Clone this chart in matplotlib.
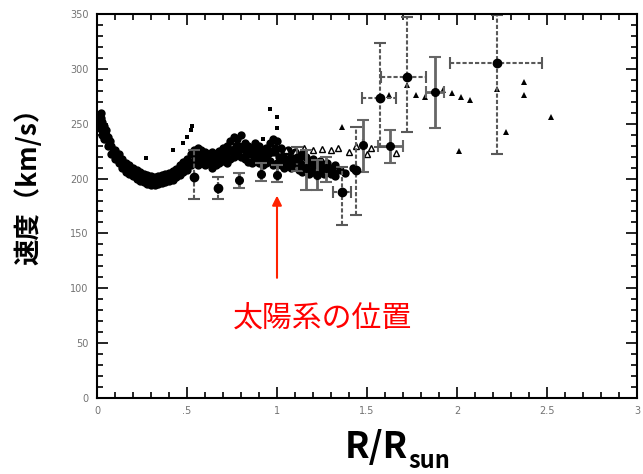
import numpy as np
import matplotlib.pyplot as plt

plt.rcParams['font.family'] = ['DejaVu Sans']

# dense band of small points (R/Rsun, km/s)
band_x = [0.01, 0.01, 0.02, 0.02, 0.02, 0.03, 0.03, 0.04, 0.04, 0.05, 0.05, 0.06, 0.06,
          0.08, 0.08, 0.10, 0.10, 0.12, 0.12, 0.14, 0.14, 0.16, 0.16, 0.18, 0.18,
          0.20, 0.20, 0.22, 0.22, 0.24, 0.24, 0.26, 0.26, 0.28, 0.28, 0.30, 0.30,
          0.32, 0.32, 0.34, 0.34, 0.36, 0.36, 0.38, 0.38, 0.40, 0.40, 0.42, 0.42,
          0.44, 0.44, 0.46, 0.46, 0.48, 0.48, 0.50, 0.50, 0.52, 0.52, 0.54, 0.54,
          0.56, 0.56, 0.56, 0.58, 0.58, 0.60, 0.60, 0.62, 0.62, 0.64, 0.64, 0.66, 0.66,
          0.68, 0.68, 0.70, 0.70, 0.72, 0.72, 0.74, 0.74, 0.76, 0.76, 0.78, 0.78,
          0.80, 0.80, 0.82, 0.82, 0.84, 0.84, 0.86, 0.86, 0.88, 0.88, 0.90, 0.90,
          0.92, 0.92, 0.94, 0.94, 0.96, 0.96, 0.98, 0.98, 1.00, 1.00, 1.02, 1.02,
          1.04, 1.04, 1.06, 1.06, 1.08, 1.08, 1.10, 1.10, 1.12, 1.12, 1.14, 1.14,
          1.16, 1.16, 1.18, 1.18, 1.20, 1.20, 1.22, 1.22, 1.24, 1.24, 1.26, 1.26,
          1.28, 1.28, 1.30, 1.30, 1.32, 1.32, 1.35, 1.38, 1.42,
          0.03, 0.07, 0.11, 0.15, 0.19, 0.23, 0.27, 0.31, 0.35, 0.39, 0.43, 0.47,
          0.51, 0.57, 0.61, 0.65, 0.69, 0.73, 0.77, 0.81, 0.85, 0.89, 0.93, 0.97,
          1.01, 1.05, 1.09, 1.13, 1.17, 1.21, 1.25, 1.29,
          0.02, 0.05, 0.09, 0.13, 0.17, 0.21, 0.25, 0.29, 0.33, 0.37, 0.41, 0.45,
          0.49, 0.55, 0.59, 0.63, 0.67, 0.71, 0.75, 0.79, 0.83, 0.87, 0.91, 0.95,
          0.99, 1.03, 1.07, 1.11, 1.15, 1.19, 1.23, 1.27, 1.31,
          0.59, 0.63, 0.67, 0.71, 0.75, 0.79, 0.83, 0.87, 0.91, 0.95, 0.99, 1.03]
band_y = [258, 250, 255, 245, 260, 252, 240, 248, 236, 244, 240, 238, 230,
          230, 222, 226, 218, 222, 214, 218, 210, 214, 206, 212, 204,
          210, 202, 208, 200, 206, 198, 204, 197, 203, 195, 202, 194,
          201, 194, 202, 195, 203, 196, 204, 197, 205, 198, 207, 199,
          209, 201, 212, 203, 215, 206, 218, 208, 222, 212, 226, 216,
          228, 218, 212, 226, 214, 224, 212, 222, 214, 224, 210, 222, 212,
          225, 214, 228, 216, 230, 214, 234, 218, 238, 220, 236, 222,
          240, 220, 232, 218, 230, 215, 228, 214, 232, 216, 230, 214,
          226, 212, 228, 214, 232, 216, 236, 212, 234, 214, 228, 212,
          224, 210, 226, 212, 222, 210, 224, 214, 218, 208, 222, 206,
          220, 210, 216, 204, 218, 208, 214, 204, 216, 206, 212, 204,
          214, 206, 210, 204, 212, 202, 208, 205, 210,
          246, 234, 220, 212, 208, 202, 199, 197, 199, 201, 204, 210,
          214, 222, 218, 218, 220, 224, 230, 228, 222, 224, 220, 224,
          220, 218, 216, 214, 214, 210, 210, 208,
          252, 236, 224, 216, 206, 204, 200, 200, 197, 200, 202, 207,
          212, 220, 220, 216, 217, 222, 226, 226, 224, 220, 222, 222,
          224, 220, 218, 220, 212, 214, 208, 208, 206,
          216, 218, 216, 220, 226, 230, 226, 222, 218, 226, 228, 218]

# scattered outliers
out_x = [0.27, 0.42, 0.48, 0.50, 0.52, 0.53, 0.96, 1.00, 1.00, 0.92]
out_y = [219, 226, 232, 238, 244, 248, 263, 256, 246, 236]

# open triangles
otri_x = [1.05, 1.10, 1.15, 1.20, 1.25, 1.30, 1.34, 1.40, 1.44, 1.50, 1.52, 1.66]
otri_y = [226, 224, 228, 226, 227, 226, 228, 224, 230, 222, 228, 223]

# filled triangles
tri_x = [1.36, 1.62, 1.72, 1.77, 1.82, 1.92, 1.97, 2.02, 2.07, 2.01, 2.22, 2.27, 2.37, 2.37, 2.52]
tri_y = [247, 276, 285, 276, 274, 281, 278, 274, 272, 225, 282, 242, 288, 276, 256]

# points with solid error bars
sol_x = [0.79, 0.91, 1.00, 1.16, 1.22, 1.27, 1.48, 1.63, 1.88]
sol_y = [199, 204, 203, 210, 203, 210, 231, 230, 279]
sol_ylo = [8, 6, 6, 20, 13, 13, 25, 16, 33]
sol_yhi = [6, 10, 9, 16, 14, 10, 22, 14, 32]
sol_xe = [0, 0, 0, 0, 0, 0, 0, 0.07, 0.05]

# points with dashed error bars
dsh_x = [0.54, 0.67, 1.11, 1.36, 1.44, 1.57, 1.72, 2.22]
dsh_y = [201, 191, 219, 188, 208, 273, 293, 305]
dsh_ylo = [20, 10, 12, 30, 41, 44, 51, 83]
dsh_yhi = [25, 10, 10, 23, 39, 51, 54, 44]
dsh_xlo = [0, 0, 0, 0.05, 0, 0.10, 0.14, 0.26]
dsh_xhi = [0, 0, 0, 0.05, 0, 0.09, 0.11, 0.25]

fig = plt.figure(figsize=(6.43, 4.74), dpi=100)
ax = fig.add_axes([97/643, 1-398/474, 540/643, 384/474])

ax.plot(band_x, band_y, 'o', color='k', ms=6, mew=0)
ax.plot(out_x, out_y, 's', color='k', ms=3.5, mew=0)
ax.plot(otri_x, otri_y, '^', mfc='white', mec='k', ms=5, mew=1)
ax.plot(tri_x, tri_y, '^', color='k', ms=5, mew=0)

eb = ax.errorbar(sol_x, sol_y, yerr=[sol_ylo, sol_yhi], xerr=sol_xe, fmt='o', color='k',
                 ms=5.5, ecolor='0.4', elinewidth=2, capsize=4, capthick=1.5)
eb2 = ax.errorbar(dsh_x, dsh_y, yerr=[dsh_ylo, dsh_yhi], xerr=[dsh_xlo, dsh_xhi], fmt='o',
                  color='k', ms=6, ecolor='0.35', elinewidth=1.5, capsize=4, capthick=1.5)
eb2[-1][0].set_linestyle((0, (2, 1)))
eb2[-1][1].set_linestyle((0, (2, 1)))

ax.set_xlim(0, 3)
ax.set_ylim(0, 350)
ax.set_xticks([0, 0.5, 1, 1.5, 2, 2.5, 3])
ax.set_xticklabels(['0', '.5', '1', '1.5', '2', '2.5', '3'])
ax.set_xticks(np.arange(0, 3.01, 0.1), minor=True)
ax.set_yticks(np.arange(0, 351, 50))
ax.set_yticks(np.arange(0, 351, 10), minor=True)
ax.tick_params(which='both', direction='in', top=True, right=True, labelsize=7,
               labelcolor='0.45', width=1.2, color='k')
ax.tick_params(which='major', length=8, pad=6)
ax.tick_params(which='minor', length=4)
for s in ax.spines.values():
    s.set_linewidth(1.5)

# annotation
ax.annotate('', xy=(1.0, 187), xytext=(1.0, 107),
            arrowprops=dict(arrowstyle='-|>', color='#ff2200', lw=1.5, mutation_scale=14))
ax.text(1.25, 72, '太陽系の位置', color='#ff0000', fontsize=21.5, ha='center', va='center',
        family=['Noto Sans CJK JP', 'DejaVu Sans'])

fig.text(29/643, 1-180/474, '速度（km/s）', rotation=90, ha='center', va='center',
         fontsize=19, fontweight='bold', family=['Noto Sans CJK JP', 'DejaVu Sans'])
fig.text(345/643, 1-458/474, 'R/R', ha='left', va='baseline', fontsize=26,
         fontweight='bold', family=['Noto Sans CJK JP', 'DejaVu Sans'])
fig.text(408/643, 1-468/474, 'sun', ha='left', va='baseline', fontsize=17,
         fontweight='bold', family=['Noto Sans CJK JP', 'DejaVu Sans'])

fig.savefig('out.png', dpi=100)
